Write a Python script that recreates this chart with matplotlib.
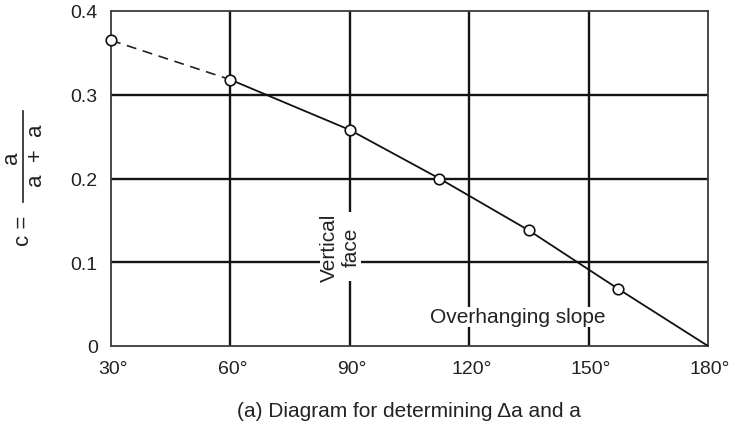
import matplotlib
matplotlib.use("Agg")
import matplotlib.pyplot as plt
from matplotlib.transforms import ScaledTranslation

plt.rcParams['font.family'] = ['Liberation Sans', 'DejaVu Sans']

# Slope angle (degrees) and coefficient c
angles = [30, 60, 90, 112.5, 135, 157.5, 180]
c_values = [0.365, 0.318, 0.258, 0.200, 0.138, 0.068, 0.0]
x_ticks = [30, 60, 90, 120, 150, 180]
x_tick_labels = ["30°", "60°", "90°", "120°", "150°", "180°"]
y_ticks = [0, 0.1, 0.2, 0.3, 0.4]
y_tick_labels = ["0", "0.1", "0.2", "0.3", "0.4"]

TXT = '#222222'

fig = plt.figure(figsize=(7.30, 4.27), dpi=100)
ax = fig.add_axes([111 / 730, 1 - 347 / 427, 597 / 730, 335 / 427])

ax.set_xlim(30, 180)
ax.set_ylim(0, 0.4)

# grid lines
for xv in x_ticks[1:-1]:
    ax.axvline(xv, color='#151515', lw=1.7, zorder=1)
for yv in y_ticks[1:-1]:
    ax.axhline(yv, color='#151515', lw=1.7, zorder=1)

for s in ax.spines.values():
    s.set_color('#3a3a3a')
    s.set_linewidth(1.3)

# dashed extrapolated part, then the solid curve
ax.plot(angles[:2], c_values[:2], color='#222222', lw=1.2, ls=(0, (6, 4)), zorder=3)
ax.plot(angles[1:], c_values[1:], color='#111111', lw=1.3, zorder=3)
ax.plot(angles[:-1], c_values[:-1], ls='none', marker='o', ms=7.6,
        mfc='white', mec='#111111', mew=1.2, zorder=4, clip_on=False)

ax.set_xticks(x_ticks)
ax.set_xticklabels(x_tick_labels)
ax.set_yticks(y_ticks)
ax.set_yticklabels(y_tick_labels)
ax.tick_params(length=0, labelsize=14, colors=TXT)
ax.tick_params(axis='y', pad=9.5)
ax.tick_params(axis='x', pad=10)
shift = ScaledTranslation(2 / 100, 0, fig.dpi_scale_trans)
for lbl in ax.get_xticklabels():
    lbl.set_transform(lbl.get_transform() + shift)

ax.text(87.6, 0.1186, "Vertical\nface", rotation=90, ha='center', va='center',
        fontsize=15, color=TXT, linespacing=1.15, zorder=5,
        bbox=dict(facecolor='white', edgecolor='none', pad=0.3))
ax.text(132.3, 0.0347, "Overhanging slope", ha='center', va='center',
        fontsize=15, color=TXT, zorder=5,
        bbox=dict(facecolor='white', edgecolor='none', pad=0.3))

# y-axis label written as a fraction
fig.text(24 / 730, 1 - 231 / 427, "c =", rotation=90, ha='center', va='center',
         fontsize=16, color=TXT)
fig.add_artist(plt.Line2D([23 / 730, 23 / 730], [1 - 112 / 427, 1 - 203 / 427],
                          color=TXT, lw=1.2))
fig.text(12 / 730, 1 - 158 / 427, "a", rotation=90, ha='center', va='center',
         fontsize=16, color=TXT)
fig.text(37 / 730, 1 - 156 / 427, "a  +  a", rotation=90, ha='center', va='center',
         fontsize=16, color=TXT)

fig.text(409 / 730, 1 - 412 / 427, "(a) Diagram for determining Δa and a",
         ha='center', va='center', fontsize=15, color=TXT)

fig.savefig("out.png", dpi=100)
